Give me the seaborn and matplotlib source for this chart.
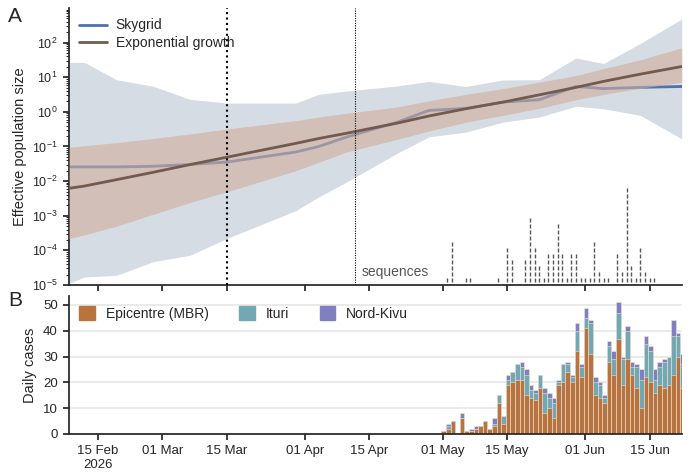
import numpy as np
import pandas as pd
import seaborn as sns
import matplotlib.pyplot as plt
import matplotlib.dates as mdates
from matplotlib.ticker import FixedLocator, NullFormatter
from matplotlib.lines import Line2D
from matplotlib.patches import Patch

# ---- Effective population size (panel A) ----
ne_dates = ['2026-02-08 16:00', '2026-02-12', '2026-02-19', '2026-02-27', '2026-03-07',
            '2026-03-15', '2026-03-30', '2026-04-04', '2026-04-10', '2026-04-21',
            '2026-04-28', '2026-05-06', '2026-05-14', '2026-05-22', '2026-05-30',
            '2026-06-05', '2026-06-13', '2026-06-22']

skygrid_med = [0.0257, 0.0257, 0.0257, 0.0269, 0.0302, 0.0355, 0.0692, 0.10, 0.186, 0.50,
               1.10, 1.26, 1.90, 2.24, 5.4, 4.7, 5.1, 5.4]
skygrid_hi = [26.9, 26.9, 8.5, 5.5, 2.3, 1.8, 1.8, 3.2, 4.0, 5.6,
              7.6, 5.4, 8.3, 8.5, 36.0, 25.0, 95.0, 480.0]
skygrid_lo = [1.1e-5, 1.7e-5, 1.9e-5, 4.7e-5, 7.2e-5, 2.2e-4, 1.4e-3, 3.5e-3, 9.3e-3, 0.063,
              0.19, 0.26, 0.50, 0.71, 1.45, 1.23, 0.79, 0.166]

expo_med = [6.2e-3, 7.2e-3, 0.011, 0.018, 0.030, 0.049, 0.123, 0.17, 0.24, 0.47,
            0.76, 1.23, 1.9, 3.1, 5.1, 7.6, 12.3, 20.4]
expo_hi = [0.095, 0.105, 0.13, 0.17, 0.23, 0.32, 0.56, 0.71, 0.91, 1.38,
           2.1, 3.2, 4.7, 7.2, 11.2, 17.8, 32.0, 71.0]
expo_lo = [2.2e-4, 2.8e-4, 5e-4, 1.1e-3, 2.4e-3, 4.9e-3, 0.020, 0.035, 0.069, 0.16,
           0.28, 0.50, 0.79, 1.26, 2.24, 3.2, 4.8, 7.2]

# ---- sequences per sampling date ----
seq_dates = ['2026-05-02', '2026-05-03', '2026-05-06', '2026-05-07', '2026-05-13', '2026-05-15',
             '2026-05-16', '2026-05-19', '2026-05-20', '2026-05-21', '2026-05-22', '2026-05-23',
             '2026-05-24', '2026-05-25', '2026-05-26', '2026-05-27', '2026-05-28', '2026-05-29',
             '2026-05-30', '2026-05-31', '2026-06-01', '2026-06-02', '2026-06-03', '2026-06-04',
             '2026-06-05', '2026-06-06', '2026-06-08', '2026-06-09', '2026-06-10', '2026-06-11',
             '2026-06-12', '2026-06-13', '2026-06-14', '2026-06-15', '2026-06-16']
seq_counts = [1, 7, 1, 1, 1, 6, 4, 4, 11, 6, 3, 1, 5, 5, 10, 5, 1, 5, 5, 1, 1, 1, 7, 2, 1, 1,
              5, 2, 16, 3, 1, 6, 2, 1, 1]

# ---- daily cases (panel B), 01 May - 22 Jun ----
case_dates = pd.date_range('2026-05-01', '2026-06-22', freq='D')
epicentre = [1, 2, 5, 0, 6, 1, 1, 2, 3, 5, 2, 3, 12, 4, 19, 20, 21, 21, 15, 14, 13, 18, 8, 10,
             6, 19, 20, 24, 20, 32, 22, 41, 31, 15, 14, 12, 28, 23, 37, 19, 29, 23, 18, 10, 22,
             20, 16, 19, 18, 19, 23, 30, 18]
ituri = [0, 1, 0, 0, 0, 0, 0, 0, 0, 0, 0, 1, 3, 3, 2, 4, 6, 5, 8, 3, 3, 5, 8, 4,
         6, 1, 7, 3, 2, 8, 4, 4, 12, 5, 5, 2, 6, 6, 10, 10, 11, 3, 8, 11, 13,
         12, 5, 7, 10, 11, 15, 8, 9]
nord_kivu = [0, 1, 0, 0, 2, 0, 1, 1, 0, 0, 0, 2, 0, 0, 2, 0, 0, 2, 2, 2, 1, 0, 2, 2,
             2, 1, 0, 1, 1, 3, 1, 4, 1, 2, 1, 1, 2, 3, 4, 1, 2, 2, 1, 4, 3,
             2, 4, 2, 1, 0, 6, 1, 4]

tick_dates = ['2026-02-15', '2026-03-01', '2026-03-15', '2026-04-01', '2026-04-15',
              '2026-05-01', '2026-05-15', '2026-06-01', '2026-06-15']
tick_labels = ['15 Feb\n2026', '01 Mar', '15 Mar', '01 Apr', '15 Apr',
               '01 May', '15 May', '01 Jun', '15 Jun']

sns.set_theme(style='ticks')
plt.rcParams['font.family'] = ['Liberation Sans', 'DejaVu Sans']
plt.rcParams['mathtext.default'] = 'regular'

c_sky = '#4c72b0'
c_exp = '#735a4e'
c_epi, c_itu, c_nk = '#b7743f', '#73a8b2', '#8080be'

def dnum(d):
    return mdates.date2num(pd.to_datetime(d, format='mixed'))

fig = plt.figure(figsize=(6.9, 4.73), dpi=100)
axA = fig.add_axes([0.1, 0.3975, 0.888, 0.5856])
axB = fig.add_axes([0.1, 0.0825, 0.888, 0.2918], sharex=axA)

xne = dnum(ne_dates)

# Panel A
axA.fill_between(xne, skygrid_lo, skygrid_hi, color='#d6dce4', lw=0, zorder=1)
sns.lineplot(x=xne, y=skygrid_med, color=c_sky, lw=2, ax=axA, zorder=2)
axA.fill_between(xne, expo_lo, expo_hi, color='#d0ae9c', alpha=0.6, lw=0, zorder=3)
sns.lineplot(x=xne, y=expo_med, color=c_exp, lw=2, ax=axA, zorder=4)
sns.despine(ax=axA)
axA.set_yscale('log')
axA.set_ylim(1e-5, 1e3)
axA.set_yticks([1e-5, 1e-4, 1e-3, 1e-2, 1e-1, 1, 10, 100])
minor_pos = [k * 10.0 ** e for e in range(-5, 3) for k in range(2, 10)]
axA.yaxis.set_minor_locator(FixedLocator(minor_pos))
axA.yaxis.set_minor_formatter(NullFormatter())
axA.tick_params(axis='y', which='minor', length=2.5, width=0.7, left=True, color='.15')
axA.tick_params(axis='both', which='major', length=4.5)
axA.axvline(dnum('2026-03-15'), color='black', ls=(0, (1, 1.6)), lw=1.5, zorder=5)
axA.axvline(dnum('2026-04-12'), color='black', ls=(0, (1, 1.2)), lw=0.8, zorder=5)
axA.text(dnum('2026-04-13 10:00'), 2.4e-5, 'sequences', color='#555555', fontsize=10,
         va='center', ha='left')
axA.set_ylabel('Effective population size', fontsize=10.5)
axA.set_xlabel('')
axA.tick_params(axis='both', labelsize=9)
axA.tick_params(axis='x', labelbottom=False)

axA.legend(handles=[Line2D([], [], color=c_sky, lw=2, label='Skygrid'),
                    Line2D([], [], color=c_exp, lw=2, label='Exponential growth')],
           loc='upper left', bbox_to_anchor=(0.0, 1.0), frameon=False, fontsize=10,
           handlelength=2.0, handletextpad=0.6, labelspacing=0.25, borderaxespad=0.35)

# sequence ticks on a linear twin axis
axS = axA.twinx()
sx, sy = [], []
for d, n in zip(seq_dates, seq_counts):
    for k in range(1, n + 1):
        sx.append(dnum(d))
        sy.append(k - 0.2)
sns.scatterplot(x=sx, y=sy, marker='|', s=10, linewidth=1.0, color='#555555', ax=axS)
axS.set_ylim(0, 277 / 6)
axS.set_yticks([])
axS.set_ylabel('')
for sp in axS.spines.values():
    sp.set_visible(False)

# Panel B: stacked daily cases
xc = mdates.date2num(case_dates)
bins = list(np.arange(xc[0] - 0.3, xc[-1] + 1, 1))
epi = np.array(epicentre)
itu = np.array(ituri)
nk = np.array(nord_kivu)
for w, c in [(epi + itu + nk, c_nk), (epi + itu, c_itu), (epi, c_epi)]:
    df = pd.DataFrame({'day': xc, 'n': w})
    sns.histplot(data=df, x='day', weights='n', bins=bins, color=c, alpha=1,
                 edgecolor='#efe6de', linewidth=0.4, ax=axB)
sns.despine(ax=axB)
axB.set_ylim(0, 53.5)
axB.set_yticks([0, 10, 20, 30, 40, 50])
axB.yaxis.grid(True, color='#e6e6e6', lw=1.2)
axB.set_axisbelow(True)
axB.set_ylabel('Daily cases', fontsize=10.5)
axB.set_xlabel('')
axB.tick_params(axis='both', labelsize=9.5, length=4.5)
axB.legend(handles=[Patch(color=c_epi, label='Epicentre (MBR)'),
                    Patch(color=c_itu, label='Ituri'),
                    Patch(color=c_nk, label='Nord-Kivu')],
           loc='upper left', bbox_to_anchor=(0.0, 1.0), ncol=3, frameon=False, fontsize=10,
           handlelength=1.1, handleheight=1.1, columnspacing=2.2, borderaxespad=0.35)

axB.set_xticks(dnum(tick_dates))
axB.set_xticklabels(tick_labels)
axB.set_xlim(dnum('2026-02-08 16:00'), dnum('2026-06-22'))

# make sure the log minor ticks on panel A are drawn
for t in axA.yaxis.get_minor_ticks(len(minor_pos)):
    t.tick1line.set_visible(True)
    t.tick1line.set_markersize(2.5)
    t.tick1line.set_markeredgewidth(0.7)

fig.text(0.012, 0.985, 'A', fontsize=15, va='top')
fig.text(0.012, 0.385, 'B', fontsize=15, va='top')

fig.savefig('out.png', dpi=100)
